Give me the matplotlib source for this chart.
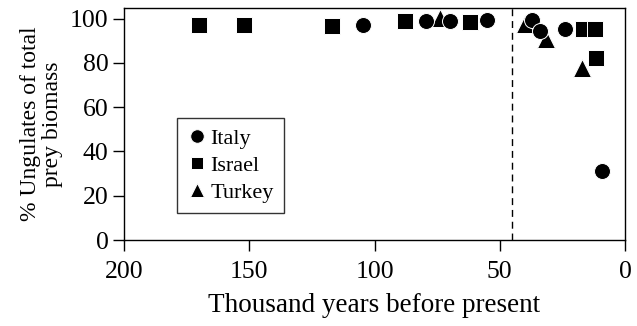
import matplotlib
matplotlib.use("Agg")
from matplotlib import pyplot as plt

# thousand years before present / % ungulates of total prey biomass
italy_kya = [104.6, 79.5, 70, 55, 37, 34, 24, 9.3]
italy_pct = [97, 99, 99, 99.3, 99.5, 94.5, 95.5, 31]
israel_kya = [170, 152, 117, 88, 62, 16.6, 12, 11.6]
israel_pct = [97, 97, 96.5, 99, 98.5, 95.5, 95.5, 82]
turkey_kya = [74, 40, 31.5, 17]
turkey_pct = [100.5, 97.8, 91, 77.5]
divide_kya = 45

plt.rcParams['font.family'] = ['Liberation Serif', 'DejaVu Serif']

fig = plt.figure(figsize=(6.37, 3.26), dpi=100)
ax = fig.add_axes([0.1947, 0.2638, 0.7865, 0.713])

mk = dict(color='black', mec='white', mew=0.7, ls='none')
tr, = ax.plot(turkey_kya, turkey_pct, marker='^', ms=12.5, label='Turkey', **mk)
sq, = ax.plot(israel_kya, israel_pct, marker='s', ms=11, label='Israel', **mk)
ci, = ax.plot(italy_kya, italy_pct, marker='o', ms=11.5, label='Italy', **mk)

ax.axvline(divide_kya, color='black', lw=1, ls=(0, (5, 3.5)), zorder=0)

ax.set_xlim(200, 0)
ax.set_ylim(0, 105)
ax.set_xticks([200, 150, 100, 50, 0])
ax.set_yticks([0, 20, 40, 60, 80, 100])
ax.tick_params(axis='both', direction='out', length=8, width=1, labelsize=18.5)
ax.tick_params(axis='x', pad=7)
ax.tick_params(axis='y', pad=3)
for s in ax.spines.values():
    s.set_linewidth(1)

ax.set_xlabel("Thousand years before present", fontsize=19.5, labelpad=7)
ax.set_ylabel("% Ungulates of total\nprey biomass", fontsize=17, labelpad=5,
              linespacing=1.05)

leg = ax.legend(handles=[ci, sq, tr], loc='upper left',
                bbox_to_anchor=(0.106, 0.525), fontsize=16, frameon=True,
                fancybox=False, edgecolor='black', handletextpad=0.15,
                handlelength=0.9, borderpad=0.45, labelspacing=0.3,
                borderaxespad=0, markerscale=0.85)
leg.get_frame().set_linewidth(1)

fig.savefig("out.png", dpi=100)
